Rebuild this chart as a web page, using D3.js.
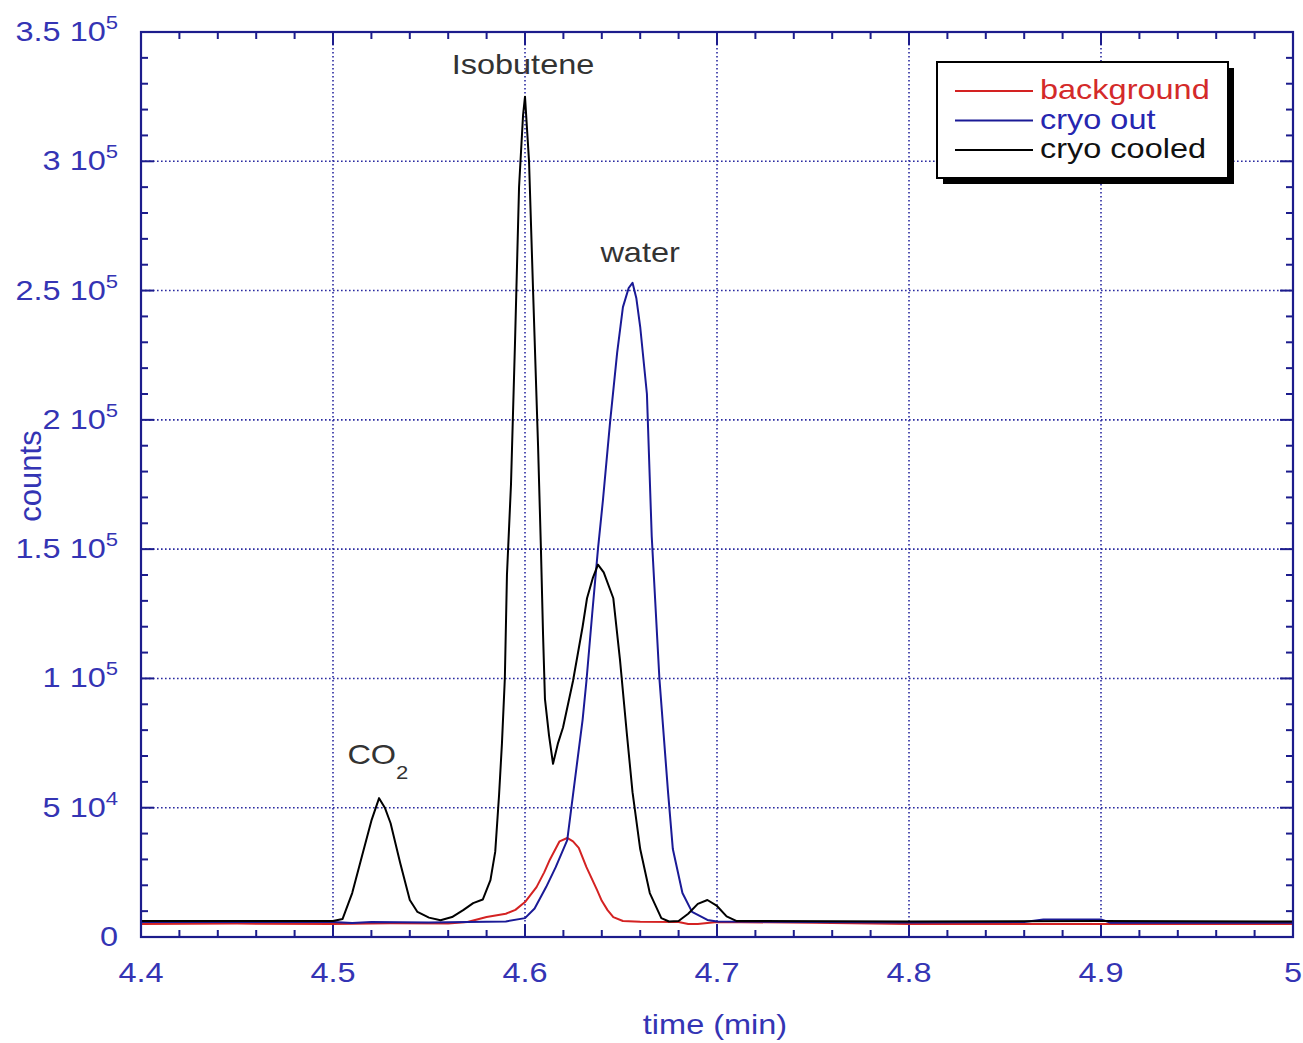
<!DOCTYPE html>
<html><head><meta charset="utf-8">
<script src="https://cdn.jsdelivr.net/npm/d3@7"></script>
<style>body{margin:0;background:#fff;} svg{display:block;}</style>
</head><body>
<svg id="chart" width="1303" height="1043"></svg>
<script>
// ---- data ----
const xTicks = [4.4, 4.5, 4.6, 4.7, 4.8, 4.9, 5.0];
const xTickLabels = ["4.4", "4.5", "4.6", "4.7", "4.8", "4.9", "5"];
const yTicks = [0, 50000, 100000, 150000, 200000, 250000, 300000, 350000];
const yTickMantissa = ["0", "5", "1", "1.5", "2", "2.5", "3", "3.5"];
const yTickExponent = ["", "4", "5", "5", "5", "5", "5", "5"];

const seriesNames = ["background", "cryo out", "cryo cooled"];

const timeBackground = [4.40, 4.45, 4.50, 4.53, 4.56, 4.570, 4.580, 4.590, 4.595, 4.600, 4.606, 4.610, 4.613, 4.618, 4.622, 4.625, 4.628, 4.632, 4.6375, 4.640, 4.643, 4.646, 4.651, 4.660, 4.680, 4.685, 4.690, 4.700, 4.75, 4.80, 4.90, 5.00];
const countsBackground = [5000, 5200, 5000, 5300, 5200, 5800, 7700, 9000, 10500, 13500, 19300, 25000, 30000, 37000, 38300, 37000, 34500, 27000, 18200, 14000, 10400, 7700, 6200, 5900, 5800, 5000, 5000, 5800, 5500, 5000, 5000, 5000];

const timeCryoOut = [4.40, 4.50, 4.51, 4.52, 4.55, 4.59, 4.600, 4.605, 4.611, 4.616, 4.622, 4.625, 4.630, 4.632, 4.635, 4.638, 4.6406, 4.6443, 4.648, 4.651, 4.654, 4.656, 4.658, 4.660, 4.6635, 4.666, 4.670, 4.6745, 4.677, 4.682, 4.687, 4.695, 4.70, 4.75, 4.80, 4.86, 4.87, 4.90, 4.905, 5.00];
const countsCryoOut = [5800, 5800, 5400, 5800, 5600, 6000, 7300, 11000, 19300, 27000, 37500, 55000, 84000, 99000, 125000, 150000, 169000, 199000, 226000, 243600, 251000, 253000, 247000, 236000, 210000, 155000, 100000, 56000, 34000, 17000, 9700, 6600, 6000, 5800, 5600, 5800, 6800, 6800, 5500, 5500];

const timeCryoCooled = [4.40, 4.50, 4.505, 4.510, 4.515, 4.520, 4.524, 4.527, 4.530, 4.535, 4.540, 4.544, 4.550, 4.556, 4.562, 4.568, 4.573, 4.578, 4.582, 4.5845, 4.5865, 4.588, 4.5895, 4.5906, 4.5927, 4.5948, 4.5969, 4.5990, 4.600, 4.6021, 4.6042, 4.6068, 4.6083, 4.6094, 4.6104, 4.6125, 4.6146, 4.6172, 4.6198, 4.625, 4.630, 4.6323, 4.6354, 4.638, 4.641, 4.646, 4.6495, 4.653, 4.656, 4.660, 4.665, 4.671, 4.675, 4.680, 4.685, 4.690, 4.695, 4.700, 4.705, 4.710, 4.80, 4.90, 5.00];
const countsCryoCooled = [6200, 6200, 7000, 17000, 31000, 45000, 53700, 50000, 44000, 28600, 14300, 9700, 7500, 6500, 7700, 10500, 13100, 14500, 22000, 33000, 55000, 75000, 100000, 140000, 175000, 230000, 290000, 318000, 325000, 300000, 250000, 190000, 150000, 117000, 92000, 78000, 67000, 75000, 81000, 99000, 120000, 131000, 139000, 144000, 141000, 131000, 107000, 79000, 56000, 34000, 17000, 7300, 6000, 6200, 9000, 12800, 14300, 12000, 8000, 6200, 6000, 6200, 6000];

const annotations = [
  {text: "Isobutene", t: 4.6, v: 337500},
  {text: "water", t: 4.661, v: 265000}
];

// ---- layout ----
const svg = d3.select("#chart");
const L = 141, R = 1293, T = 32, B = 937;
const x = d3.scaleLinear().domain([4.4, 5.0]).range([L, R]);
const y = d3.scaleLinear().domain([0, 350000]).range([B, T]);
const axisBlue = "#1c1c8c";
const labelBlue = "#3434b4";
const FS = 28, SX = 1.16;

function stretchedText(parent, px, py, anchor, color, fs) {
  const g = parent.append("g").attr("transform", `translate(${px},${py}) scale(${SX},1)`);
  return g.append("text").attr("text-anchor", anchor).attr("fill", color)
    .attr("font-family", "Liberation Sans, Arial, sans-serif").attr("font-size", fs || FS);
}

// grid
const grid = svg.append("g");
xTicks.slice(1, -1).forEach(t => grid.append("line").attr("x1", x(t)).attr("x2", x(t)).attr("y1", T).attr("y2", B)
  .attr("stroke", "#2a2aa0").attr("stroke-width", 1.6).attr("stroke-dasharray", "1.6,2.4"));
yTicks.slice(1, -1).forEach(v => grid.append("line").attr("x1", L).attr("x2", R).attr("y1", y(v)).attr("y2", y(v))
  .attr("stroke", "#2a2aa0").attr("stroke-width", 1.6).attr("stroke-dasharray", "1.6,2.4"));

// ticks on all 4 sides, inward
const tickG = svg.append("g").attr("stroke", axisBlue).attr("stroke-width", 2);
const xMinor = d3.range(4.4, 5.0001, 0.02);
xMinor.forEach(t => {
  const major = Math.abs(Math.round(t * 10) / 10 - t) < 1e-6;
  const len = major ? 13 : 7;
  tickG.append("line").attr("x1", x(t)).attr("x2", x(t)).attr("y1", B).attr("y2", B - len);
  tickG.append("line").attr("x1", x(t)).attr("x2", x(t)).attr("y1", T).attr("y2", T + len);
});
const yMinor = d3.range(0, 350001, 10000);
yMinor.forEach(v => {
  const major = v % 50000 === 0;
  const len = major ? 13 : 7;
  tickG.append("line").attr("x1", L).attr("x2", L + len).attr("y1", y(v)).attr("y2", y(v));
  tickG.append("line").attr("x1", R).attr("x2", R - len).attr("y1", y(v)).attr("y2", y(v));
});

// data lines
svg.append("defs").append("clipPath").attr("id", "clip").append("rect")
  .attr("x", L).attr("y", T).attr("width", R - L).attr("height", B - T);
const line = d3.line().x(d => x(d[0])).y(d => y(d[1]));
const lines = [
  {t: timeBackground, c: countsBackground, color: "#d42222"},
  {t: timeCryoOut, c: countsCryoOut, color: "#1a1a96"},
  {t: timeCryoCooled, c: countsCryoCooled, color: "#000000"}
];
const plot = svg.append("g").attr("clip-path", "url(#clip)");
lines.forEach(s => {
  plot.append("path").datum(s.t.map((t, i) => [t, s.c[i]]))
    .attr("d", line).attr("fill", "none").attr("stroke", s.color).attr("stroke-width", 2)
    .attr("stroke-linejoin", "round");
});

// frame
svg.append("rect").attr("x", L).attr("y", T).attr("width", R - L).attr("height", B - T)
  .attr("fill", "none").attr("stroke", axisBlue).attr("stroke-width", 2.2);

// x tick labels
xTicks.forEach((t, i) => {
  stretchedText(svg, x(t), 982, "middle", labelBlue).text(xTickLabels[i]);
});
// y tick labels
yTicks.forEach((v, i) => {
  const tx = stretchedText(svg, 118, y(v) + 9, "end", labelBlue);
  if (yTickExponent[i] === "") {
    tx.text(yTickMantissa[i]);
  } else {
    tx.append("tspan").text(yTickMantissa[i] + " 10");
    tx.append("tspan").attr("font-size", 19).attr("dy", -12).text(yTickExponent[i]);
  }
});

// axis titles
stretchedText(svg, 715, 1034, "middle", labelBlue).text("time (min)");
svg.append("text").attr("transform", "translate(41,476) rotate(-90)")
  .attr("text-anchor", "middle").attr("fill", labelBlue)
  .attr("font-family", "Liberation Sans, Arial, sans-serif").attr("font-size", 31).text("counts");

// annotations
annotations.forEach(a => {
  stretchedText(svg, x(a.t) - 2, y(a.v) + 10, "middle", "#333333").text(a.text);
});
{
  const co = stretchedText(svg, x(4.5075), y(67000), "start", "#333333");
  co.append("tspan").text("CO");
  co.append("tspan").attr("font-size", 19).attr("dy", 15).text("2");
}

// legend
const lg = svg.append("g");
lg.append("rect").attr("x", 943).attr("y", 68).attr("width", 291).attr("height", 116).attr("fill", "#000");
lg.append("rect").attr("x", 937).attr("y", 62).attr("width", 291).attr("height", 116)
  .attr("fill", "#fff").attr("stroke", "#000").attr("stroke-width", 2);
const legendColors = ["#d42222", "#1a1a96", "#000000"];
const legendTextColors = ["#d42a2a", "#2626b0", "#111111"];
seriesNames.forEach((n, i) => {
  const ly = 91 + i * 29.5;
  lg.append("line").attr("x1", 955).attr("x2", 1033).attr("y1", ly).attr("y2", ly)
    .attr("stroke", legendColors[i]).attr("stroke-width", 2);
  stretchedText(lg, 1040, ly + 8, "start", legendTextColors[i]).text(n);
});
</script>
</body></html>
